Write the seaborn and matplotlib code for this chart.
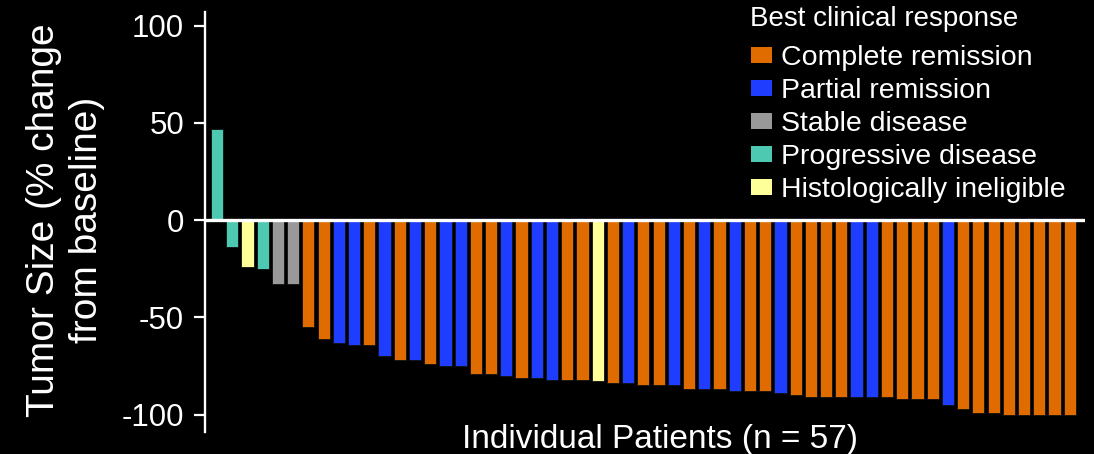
import numpy as np
import pandas as pd
import matplotlib
matplotlib.use("Agg")
import matplotlib.pyplot as plt
import seaborn as sns
from matplotlib.patches import Patch

# tumor size change per patient
change = [47, -14, -24, -25, -33, -33, -55, -61, -63, -64, -64, -70, -72, -72, -74,
          -75, -75, -79, -79, -80, -81, -81, -82, -82, -82, -83, -84, -84, -85, -85,
          -85, -87, -87, -87, -88, -88, -88, -89, -90, -91, -91, -91, -91, -91, -91,
          -92, -92, -92, -95, -97, -99, -99, -100, -100, -100, -100, -100]
codes = "GGHGSSCCPPCPCPCPPCCPCPPCCHCPCCPCPCPCCPCCCCPPCCCCPCCCCCCCC"

labels = {"C": "Complete remission", "P": "Partial remission", "S": "Stable disease",
          "G": "Progressive disease", "H": "Histologically ineligible"}
order = ["Complete remission", "Partial remission", "Stable disease",
         "Progressive disease", "Histologically ineligible"]
colors = ["#E06C00", "#1F3DFF", "#999999", "#4CC9B0", "#FFFF99"]
yticks = [-100, -50, 0, 50, 100]

df = pd.DataFrame({"patient": np.arange(len(change)), "change": change,
                   "response": [labels[c] for c in codes]})

sns.set_style("dark")
plt.rcParams["font.family"] = ["Liberation Sans", "DejaVu Sans"]
plt.rcParams["axes.unicode_minus"] = False

fig = plt.figure(figsize=(10.94, 4.54), dpi=100, facecolor="black")
ax = fig.add_axes([205/1094, 22/454, 880/1094, 420/454])
ax.set_facecolor("black")

pal = dict(zip(order, colors))
sns.barplot(data=df, x="patient", y="change", hue="response", palette=pal,
            hue_order=order, dodge=False, width=0.8, saturation=1,
            edgecolor="#111111", linewidth=0.6, legend=False, ax=ax)

ax.axhline(0, color="white", lw=2.4, zorder=5)
ax.set_ylim(-109, 107)
ax.set_xlim(-0.79, 57.0)
ax.set_yticks(yticks)
ax.set_yticklabels([str(t) for t in yticks])
ax.tick_params(axis="y", colors="white", labelsize=22.5, length=8, width=1.6,
               direction="out", pad=7, left=True)
ax.tick_params(axis="x", bottom=False, labelbottom=False)
ax.grid(False)
for s in ["top", "right", "bottom"]:
    ax.spines[s].set_visible(False)
ax.spines["left"].set_color("white")
ax.spines["left"].set_linewidth(1.7)

ax.set_xlabel("Individual Patients (n = 57)", color="white", fontsize=24)
ax.xaxis.set_label_coords(0.517, 0.018)
ax.set_ylabel("Tumor Size (% change\nfrom baseline)", color="white", fontsize=28,
              linespacing=1.25)
ax.yaxis.set_label_coords(-0.114, 0.505)

# legend title drawn separately so the gap under it matches
fig.text(750/1094, 1 - 19/454, "Best clinical response", color="white",
         fontsize=20, ha="left", va="center")
handles = [Patch(facecolor=c, edgecolor="none", label=l) for l, c in zip(order, colors)]
leg = ax.legend(handles=handles, loc="upper left",
                bbox_to_anchor=(751/1094, 1 - 45/454), bbox_transform=fig.transFigure,
                frameon=False, fontsize=20.5, handlelength=0.75,
                handleheight=0.5, handletextpad=0.3, labelspacing=0.25,
                borderpad=0, borderaxespad=0)
for t in leg.get_texts():
    t.set_color("white")

fig.savefig("out.png", dpi=100, facecolor="black")
